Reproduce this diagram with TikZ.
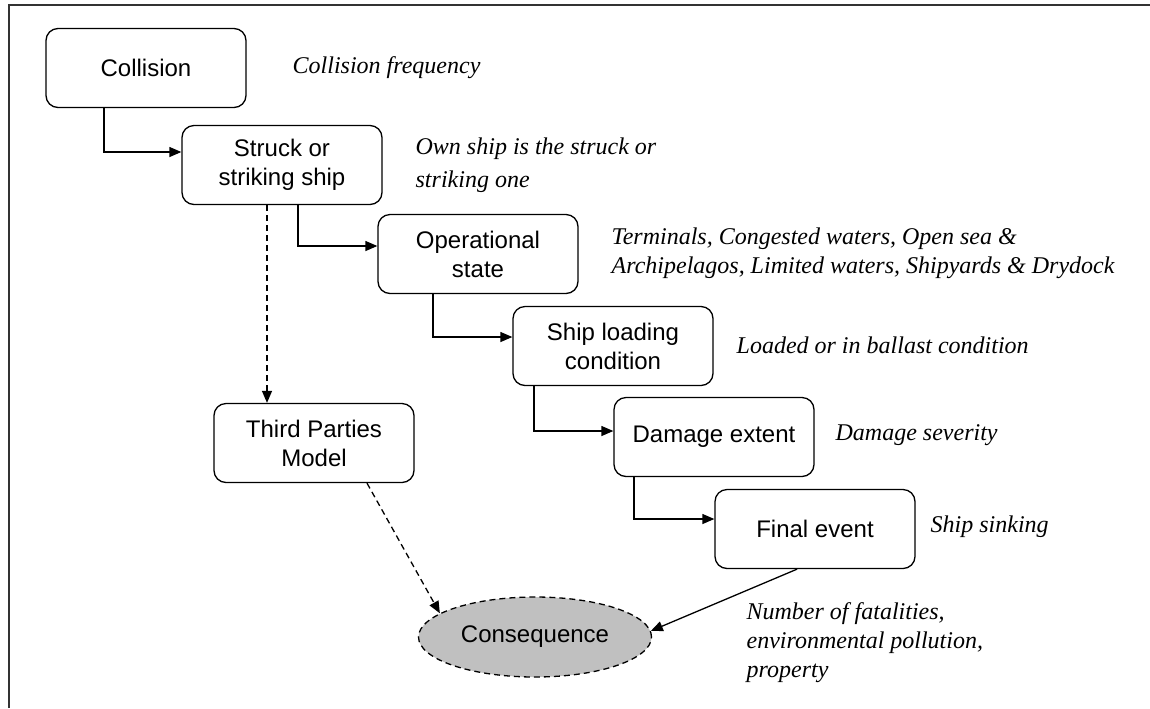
\documentclass[tikz,border=0pt]{standalone}
\usepackage{fontspec}
\setmainfont{Liberation Serif}
\setsansfont{Liberation Sans}
\usetikzlibrary{arrows.meta,shapes.geometric}
\definecolor{consgray}{RGB}{192,192,192}

\begin{document}
\begin{tikzpicture}[x=0.5pt,y=-0.5pt,line width=0.65pt,
  box/.style={draw,rounded corners=6pt,minimum width=100pt,minimum height=39.5pt,
    inner sep=0pt,align=center,font=\sffamily\fontsize{12}{14.5}\selectfont},
  note/.style={anchor=west,align=left,inner sep=0pt,
    font=\itshape\fontsize{12}{14.5}\selectfont},
  link/.style={-{Triangle[length=6pt,width=5pt]}},
  dashlink/.style={link,dash pattern=on 3pt off 2pt}]
  \useasboundingbox (0,0) rectangle (1150,708);
  \draw[line width=0.8pt,black!80] (9,708) -- (9,5) -- (1150,5);

  % event chain
  \node[box] (coll) at (146,68) {Collision};
  \node[box] (struck) at (282,165) {Struck or\\striking ship};
  \node[box] (oper) at (478,254) {Operational\\state};
  \node[box] (load) at (613,346) {Ship loading\\condition};
  \node[box] (dmg) at (714,437) {Damage extent};
  \node[box] (final) at (815,529) {Final event};
  \node[box] (third) at (314,443) {Third Parties\\Model};
  \node[draw,ellipse,dash pattern=on 3pt off 2pt,fill=consgray,
    minimum width=116.5pt,minimum height=40pt,inner sep=0pt,
    font=\sffamily\fontsize{12}{14.5}\selectfont] (cons) at (535,637) {Consequence};

  % notes
  \node[note] (nfreq) at (292,68) {Collision frequency};
  \node[note] (nown) at (415,165) {Own ship is the struck or\\[2pt]striking one};
  \node[note] (nterm) at (611,253) {Terminals, Congested waters, Open sea \&\\
    Archipelagos, Limited waters, Shipyards \& Drydock};
  \node[note] (nload) at (736,345) {Loaded or in ballast condition};
  \node[note] (nsev) at (835,435) {Damage severity};
  \node[note] (nsink) at (930,527) {Ship sinking};
  \node[note] (ncons) at (746,643) {Number of fatalities,\\
    environmental pollution,\\property};

  \draw[link] ([xshift=-21pt]coll.south) |- ([yshift=6.5pt]struck.west);
  \draw[link] ([xshift=8pt]struck.south) |- ([yshift=4pt]oper.west);
  \draw[link] ([xshift=-22.5pt]oper.south) |- ([yshift=4.5pt]load.west);
  \draw[link] ([xshift=-39.5pt]load.south) |- ([yshift=3pt]dmg.west);
  \draw[link] ([xshift=-40pt]dmg.south) |- ([yshift=5pt]final.west);
  \draw[dashlink] ([xshift=-7.5pt]struck.south) -- ([xshift=-7.5pt]struck.south |- third.north);
  \draw[dashlink] ([xshift=26.5pt]third.south) -- (cons.166);
  \draw[link] ([xshift=-9pt]final.south) -- (cons.3);
\end{tikzpicture}
\end{document}
